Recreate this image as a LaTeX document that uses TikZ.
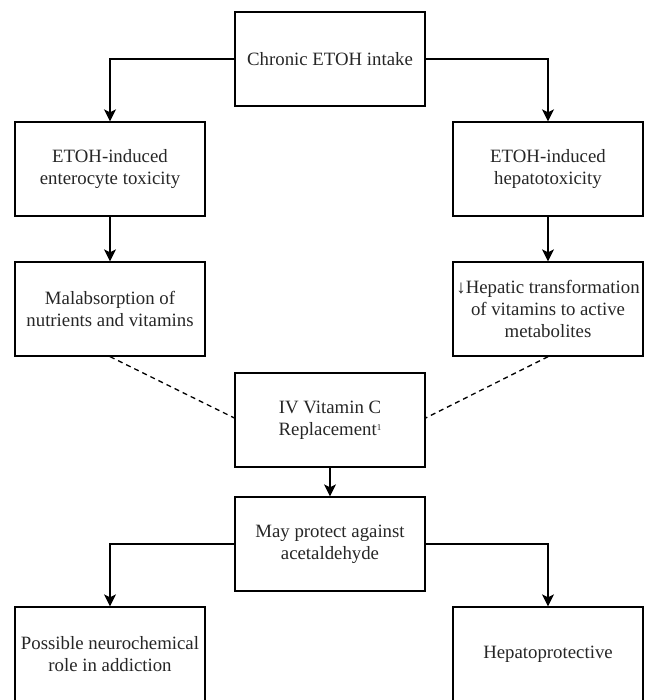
\documentclass[tikz,border=0pt]{standalone}
\usepackage{fontspec}
\setmainfont{Liberation Serif}
\usetikzlibrary{arrows.meta}
\begin{document}
\begin{tikzpicture}[x=1pt,y=-1pt,
  box/.style={draw=black, line width=1.3pt, rectangle, minimum width=190pt, minimum height=94pt,
    inner sep=0pt, align=center, font=\fontsize{18.8}{22}\selectfont, text=black!85},
  arr/.style={line width=1.3pt, -{Stealth[length=12pt,width=12pt,inset=3pt]}},
  dsh/.style={line width=1.3pt, dash pattern=on 5pt off 4pt}]
\useasboundingbox (0,0) rectangle (647,700);
\node[box] (top) at (330,59) {Chronic ETOH intake};
\node[box] (l1) at (110,169) {ETOH-induced\\enterocyte toxicity};
\node[box] (r1) at (548,169) {ETOH-induced\\hepatotoxicity};
\node[box] (l2) at (110,309) {Malabsorption of\\nutrients and vitamins};
\node[box] (r2) at (548,309) {↓Hepatic transformation\\of vitamins to active\\metabolites};
\node[box] (mid) at (330,420) {IV Vitamin C\\Replacement\raisebox{5pt}{\fontsize{9}{9}\selectfont 1}};
\node[box] (may) at (330,544) {May protect against\\acetaldehyde};
\node[box] (l3) at (110,654) {Possible neurochemical\\role in addiction};
\node[box] (r3) at (548,654) {Hepatoprotective};
\draw[arr] (top.west) -| (l1.north);
\draw[arr] (top.east) -| (r1.north);
\draw[arr] (l1.south) -- (l2.north);
\draw[arr] (r1.south) -- (r2.north);
\draw[dsh] (l2.south) -- ([yshift=2pt]mid.west);
\draw[dsh] (r2.south) -- ([yshift=2pt]mid.east);
\draw[arr] (mid.south) -- (may.north);
\draw[arr] (may.west) -| (l3.north);
\draw[arr] (may.east) -| (r3.north);
\end{tikzpicture}
\end{document}
